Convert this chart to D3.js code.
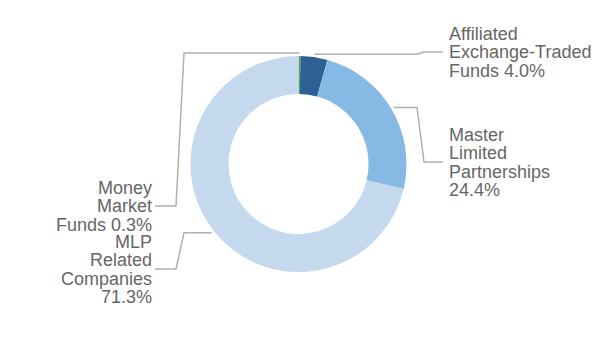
<!DOCTYPE html>
<html>
<head>
    <meta charset="utf-8">
    <title>Holdings Donut</title>
    <style type="text/css">
        body {
            margin: 0;
            background: #fff;
        }
        .label {
            font: 18px "Liberation Sans", Arial, sans-serif;
            fill: #666;
        }
        .leader {
            fill: none;
            stroke: #b0b0b0;
            stroke-width: 1.5;
        }
    </style>
</head>
<body>
    <script src="https://cdn.jsdelivr.net/npm/d3@7"></script>
    <script>
        // slices, clockwise from 12 o'clock
        var categories = ["Money Market Funds", "Affiliated Exchange-Traded Funds",
                          "Master Limited Partnerships", "MLP Related Companies"];
        var values = [0.3, 4.0, 24.4, 71.3];
        var colors = ["#4caf50", "#2e5f95", "#86b9e3", "#c4d8ee"];
        var labelLines = [
            ["Money", "Market", "Funds 0.3%"],
            ["Affiliated", "Exchange-Traded", "Funds 4.0%"],
            ["Master", "Limited", "Partnerships", "24.4%"],
            ["MLP", "Related", "Companies", "71.3%"]
        ];

        var width = 600,
            height = 360,
            cx = 298.5,
            cy = 164,
            outerR = 108,
            innerR = 70,
            lineH = 18.5;

        // where each label block is centred vertically
        var labelY = [206, 52, 162, 269];

        var svg = d3.select("body").append("svg")
            .attr("width", width)
            .attr("height", height);

        var g = svg.append("g")
            .attr("transform", "translate(" + cx + "," + cy + ")");

        var pie = d3.pie().sort(null).value(function (d) { return d; });
        var arcs = pie(values);

        var arc = d3.arc().innerRadius(innerR).outerRadius(outerR);
        var leadArc = d3.arc().innerRadius(111).outerRadius(111);

        g.selectAll("path.slice")
            .data(arcs)
            .enter().append("path")
            .attr("class", "slice")
            .attr("d", arc)
            .style("fill", function (d, i) { return colors[i]; });

        arcs.forEach(function (d, i) {
            var c = leadArc.centroid(d);
            var sx = c[0] + cx, sy = c[1] + cy;
            var right = sx >= cx + 5;
            var x1 = right ? 417 : 184,
                x2 = right ? 424 : 176,
                xe = right ? 443 : 155,
                ly = labelY[i];

            svg.append("path")
                .attr("class", "leader")
                .attr("d", d3.line()([[sx, sy], [x1, sy], [x2, ly], [xe, ly]]));

            var lines = labelLines[i];
            var t = svg.append("text")
                .attr("class", "label")
                .attr("text-anchor", right ? "start" : "end");
            var y0 = ly - (lines.length - 1) * lineH / 2;
            lines.forEach(function (s, k) {
                t.append("tspan")
                    .attr("x", right ? xe + 6 : xe - 3)
                    .attr("y", y0 + k * lineH)
                    .attr("dy", "0.35em")
                    .text(s);
            });
        });
    </script>
</body>
</html>
